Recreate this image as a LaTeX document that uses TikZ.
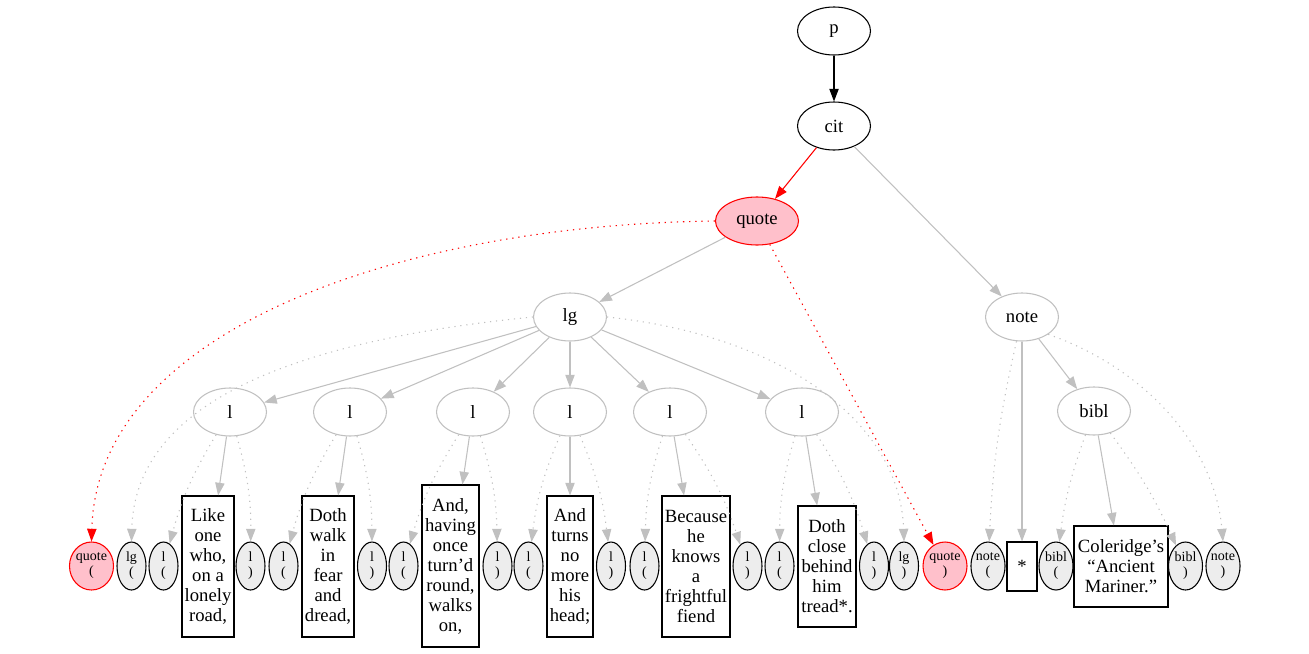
\documentclass[tikz,border=0pt]{standalone}
\usepackage{fontspec}
\setmainfont{Liberation Serif}
\usetikzlibrary{arrows.meta,shapes.geometric}
\definecolor{edgegray}{HTML}{C0C0C0}
\definecolor{lightfill}{HTML}{EDEDED}
\definecolor{pinkfill}{HTML}{FFC0CB}
\begin{document}
\begin{tikzpicture}[x=0.75pt,y=-0.75pt,
  big/.style={ellipse, draw, minimum width=54.75pt, minimum height=36pt, inner sep=0pt, line width=0.8pt, font=\fontsize{14}{15}\selectfont},
  gnode/.style={big, draw=edgegray},
  small/.style={ellipse, draw, fill=lightfill, minimum width=21.75pt, minimum height=36pt, inner sep=0pt, line width=0.8pt, align=center, font=\fontsize{10.5}{11.25}\selectfont},
  textbox/.style={rectangle, draw, inner sep=0pt, line width=0.8pt, align=center, font=\fontsize{14}{15}\selectfont},
  arr/.style={-{Triangle[length=9.5pt,width=7pt]}, line width=0.8pt},
  gedge/.style={arr, draw=edgegray},
  dotedge/.style={gedge, dash pattern=on 0.9pt off 3.6pt},
  redge/.style={arr, draw=red},
  rdot/.style={redge, dash pattern=on 1pt off 3.6pt}]
\useasboundingbox (0,0) rectangle (1309,653);
% upper nodes
\node[big] (p) at (834,31) {p};
\node[big] (cit) at (834,126) {cit};
\node[big, draw=red, fill=pinkfill, minimum width=62.25pt] (quote) at (757,221) {quote};
\node[gnode] (lg) at (570,317) {lg};
\node[gnode] (note) at (1022,317) {note};
\node[gnode] (l1) at (230,412) {l};
\node[gnode] (l2) at (350,412) {l};
\node[gnode] (l3) at (473,412) {l};
\node[gnode] (l4) at (570,412) {l};
\node[gnode] (l5) at (670,412) {l};
\node[gnode] (l6) at (802,412) {l};
\node[gnode] (bibl) at (1094,411) {bibl};
% bottom row
\node[small, draw=red, fill=pinkfill, minimum width=32.25pt] (qo) at (91.5,566) {quote\\(};
\node[small] (lgo) at (131.5,566) {lg\\(};
\node[small] (o1) at (163.5,566) {l\\(};
\node[textbox, minimum width=39pt, minimum height=105.75pt] (t1) at (208,566.5) {Like\\one\\who,\\on a\\lonely\\road,};
\node[small] (c1) at (250.5,566) {l\\)};
\node[small] (o2) at (283.5,566) {l\\(};
\node[textbox, minimum width=39pt, minimum height=105.75pt] (t2) at (328,566.5) {Doth\\walk\\in\\fear\\and\\dread,};
\node[small] (c2) at (372,566) {l\\)};
\node[small] (o3) at (403.5,566) {l\\(};
\node[textbox, minimum width=42.75pt, minimum height=121.5pt] (t3) at (450.5,566) {And,\\having\\once\\turn’d\\round,\\walks\\on,};
\node[small] (c3) at (497.5,566) {l\\)};
\node[small] (o4) at (528.5,566) {l\\(};
\node[textbox, minimum width=34.5pt, minimum height=105.75pt] (t4) at (570,566.5) {And\\turns\\no\\more\\his\\head;};
\node[small] (c4) at (611,566) {l\\)};
\node[small] (o5) at (644.5,566) {l\\(};
\node[textbox, minimum width=51pt, minimum height=105.75pt] (t5) at (696,566.5) {Because\\he\\knows\\a\\frightful\\fiend};
\node[small] (c5) at (747.5,566) {l\\)};
\node[small] (o6) at (779.5,566) {l\\(};
\node[textbox, minimum width=43.5pt, minimum height=90.75pt] (t6) at (827,566.5) {Doth\\close\\behind\\him\\tread*.};
\node[small] (c6) at (874,566) {l\\)};
\node[small] (lgc) at (904,566) {lg\\)};
\node[small, draw=red, fill=pinkfill, minimum width=33pt] (qc) at (945,566) {quote\\)};
\node[small, minimum width=25.5pt] (no) at (988,566) {note\\(};
\node[textbox, minimum width=22.5pt, minimum height=36.75pt] (star) at (1022,566.5) {*};
\node[small, minimum width=25.5pt] (bo) at (1056,566) {bibl\\(};
\node[textbox, minimum width=70.5pt, minimum height=60.75pt] (cole) at (1121,566.5) {Coleridge’s\\“Ancient\\Mariner.”};
\node[small, minimum width=25.5pt] (bc) at (1185.5,566) {bibl\\)};
\node[small, minimum width=25.5pt] (nc) at (1223,566) {note\\)};
% edges
\draw[arr] (p) -- (cit);
\draw[redge] (cit) -- (quote);
\draw[gedge] (cit) -- (note);
\draw[gedge] (quote) -- (lg);
\draw[rdot] (quote.west) .. controls (400,225) and (97,330) .. (qo.north);
\draw[rdot] (quote) -- (qc);
\draw[dotedge] (lg.west) .. controls (300,340) and (135,400) .. (lgo.north);
\draw[dotedge] (lg.east) .. controls (780,335) and (900,420) .. (lgc.north);
\foreach \i in {1,...,6}{
  \draw[gedge] (lg) -- (l\i);
  \draw[dotedge] (l\i) to[bend right=8] (o\i);
  \draw[gedge] (l\i) -- (t\i);
  \draw[dotedge] (l\i) to[bend left=8] (c\i);
}
\draw[dotedge] (note) to[bend right=5] (no);
\draw[gedge] (note) -- (star);
\draw[gedge] (note) -- (bibl);
\draw[dotedge] (note.south east) .. controls (1150,370) and (1215,450) .. (nc.north);
\draw[dotedge] (bibl) to[bend right=6] (bo);
\draw[gedge] (bibl) -- (cole);
\draw[dotedge] (bibl) to[bend left=6] (bc);
\end{tikzpicture}
\end{document}
